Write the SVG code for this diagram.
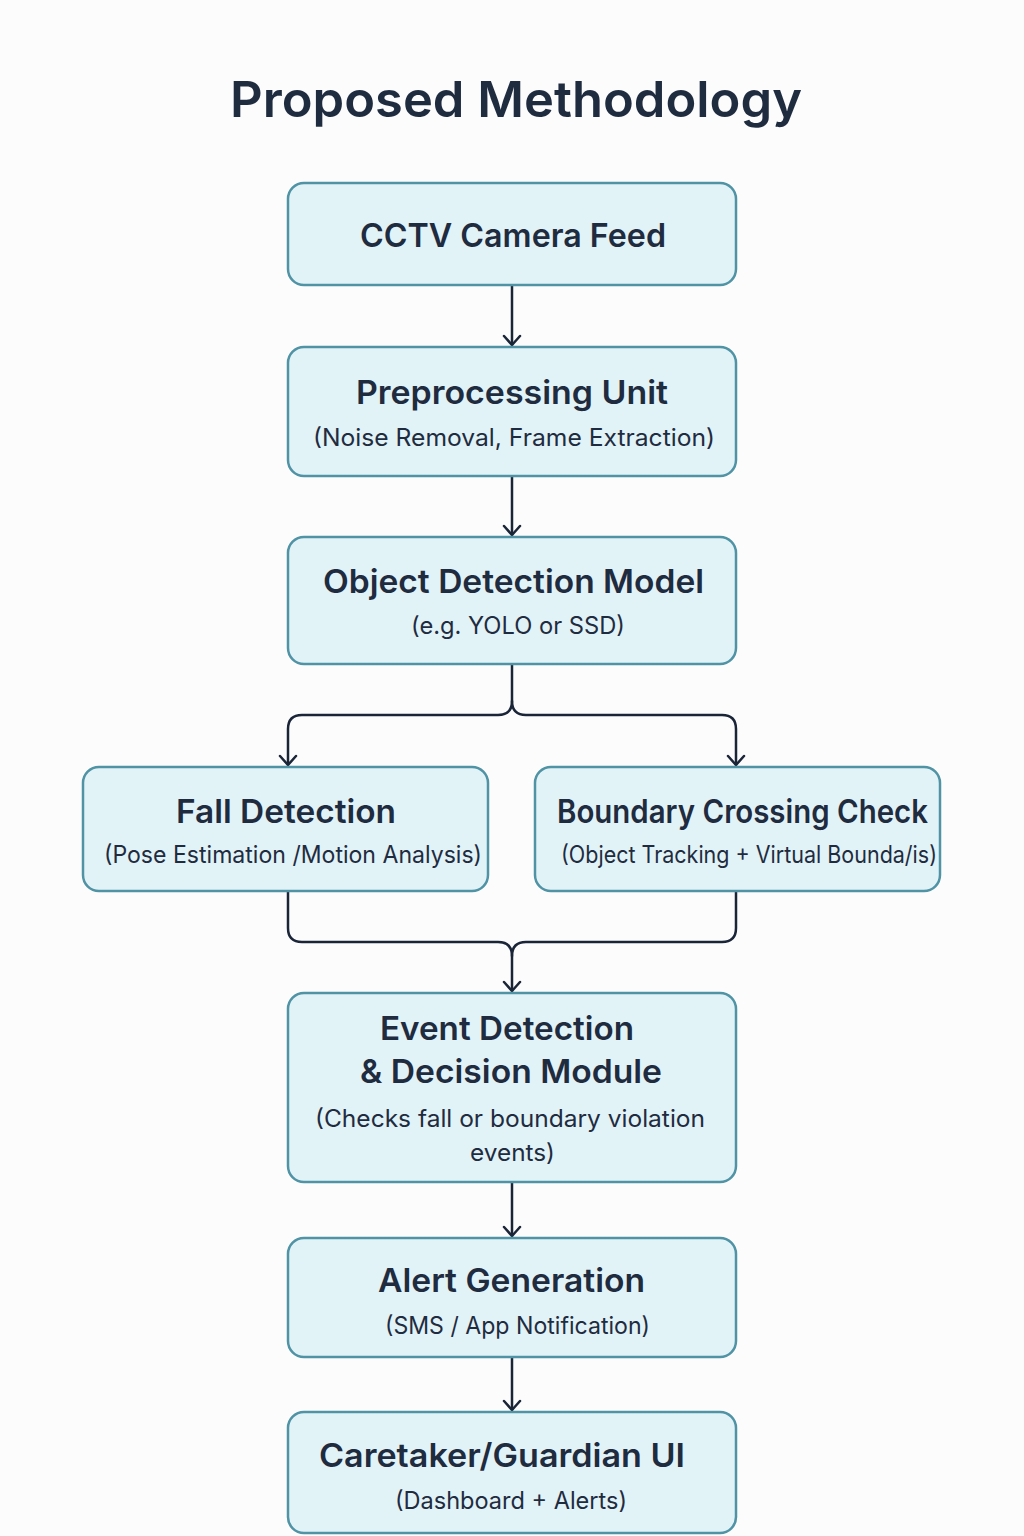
<svg xmlns="http://www.w3.org/2000/svg" width="1024" height="1536" viewBox="0 0 1024 1536">
<defs>
<style>
.bg{fill:#fcfcfc}
.box{fill:#e2f3f8;stroke:#4f93a5;stroke-width:2.5}
.ttl{font-family:Inter,"Noto Sans","Liberation Sans",sans-serif;font-weight:600;fill:#1f2c40;text-anchor:middle}
.h{font-size:33px}
.s{font-family:Inter,"Noto Sans","Liberation Sans",sans-serif;font-weight:400;font-size:24px;fill:#1f2c40;text-anchor:middle}
.c{fill:none;stroke:#1a2538;stroke-width:2.5;stroke-linecap:round;stroke-linejoin:round}
</style>
<marker id="arr" markerUnits="userSpaceOnUse" viewBox="-12 -10 14 20" refX="0" refY="0" markerWidth="14" markerHeight="20" orient="auto">
<path d="M-9,-8 L0,0 L-9,8" fill="none" stroke="#1a2538" stroke-width="2.5" stroke-linecap="round" stroke-linejoin="round"/>
</marker>
</defs>
<rect class="bg" x="0" y="0" width="1024" height="1536"/>
<text id="title" class="ttl" x="516" y="117" font-size="50" fill="#253449" textLength="572" lengthAdjust="spacingAndGlyphs">Proposed Methodology</text>

<g id="connectors">
<path class="c" d="M512,286 V345" marker-end="url(#arr)"/>
<path class="c" d="M512,477 V535" marker-end="url(#arr)"/>
<path class="c" d="M512,665 V701 Q512,715 498,715 H302 Q288,715 288,729 V765" marker-end="url(#arr)"/>
<path class="c" d="M512,701 Q512,715 526,715 H722 Q736,715 736,729 V765" marker-end="url(#arr)"/>
<path class="c" d="M288,892 V928 Q288,942 302,942 H498 Q512,942 512,956 V991" marker-end="url(#arr)"/>
<path class="c" d="M736,892 V928 Q736,942 722,942 H526 Q512,942 512,956"/>
<path class="c" d="M512,1183 V1236" marker-end="url(#arr)"/>
<path class="c" d="M512,1358 V1410" marker-end="url(#arr)"/>
</g>

<g id="n1">
<rect class="box" x="288" y="183" width="448" height="102" rx="16"/>
<text class="ttl h" x="513" y="247" textLength="306" lengthAdjust="spacingAndGlyphs">CCTV Camera Feed</text>
</g>
<g id="n2">
<rect class="box" x="288" y="347" width="448" height="129" rx="16"/>
<text class="ttl h" x="512" y="404" textLength="312" lengthAdjust="spacingAndGlyphs">Preprocessing Unit</text>
<text class="s" x="514" y="446" textLength="402" lengthAdjust="spacingAndGlyphs">(Noise Removal, Frame Extraction)</text>
</g>
<g id="n3">
<rect class="box" x="288" y="537" width="448" height="127" rx="16"/>
<text class="ttl h" x="513.5" y="593" textLength="381" lengthAdjust="spacingAndGlyphs">Object Detection Model</text>
<text class="s" x="518" y="634" textLength="214" lengthAdjust="spacingAndGlyphs">(e.g. YOLO or SSD)</text>
</g>
<g id="n4">
<rect class="box" x="83" y="767" width="405" height="124" rx="16"/>
<text class="ttl h" x="286" y="823" textLength="220" lengthAdjust="spacingAndGlyphs">Fall Detection</text>
<text class="s" x="293" y="863" textLength="378" lengthAdjust="spacingAndGlyphs">(Pose Estimation /Motion Analysis)</text>
</g>
<g id="n5">
<rect class="box" x="535" y="767" width="405" height="124" rx="16"/>
<text class="ttl h" x="742.5" y="823" textLength="371" lengthAdjust="spacingAndGlyphs">Boundary Crossing Check</text>
<text class="s" x="749" y="863" textLength="376" lengthAdjust="spacingAndGlyphs">(Object Tracking + Virtual Bounda/is)</text>
</g>
<g id="n6">
<rect class="box" x="288" y="993" width="448" height="189" rx="16"/>
<text class="ttl h" x="507" y="1040" textLength="254" lengthAdjust="spacingAndGlyphs">Event Detection</text>
<text class="ttl h" x="511" y="1083" textLength="302" lengthAdjust="spacingAndGlyphs">&amp; Decision Module</text>
<text class="s" x="510" y="1127" textLength="390" lengthAdjust="spacingAndGlyphs">(Checks fall or boundary violation</text>
<text class="s" x="512.5" y="1161" textLength="85" lengthAdjust="spacingAndGlyphs">events)</text>
</g>
<g id="n7">
<rect class="box" x="288" y="1238" width="448" height="119" rx="16"/>
<text class="ttl h" x="511.5" y="1292" textLength="267" lengthAdjust="spacingAndGlyphs">Alert Generation</text>
<text class="s" x="517.5" y="1334" textLength="265" lengthAdjust="spacingAndGlyphs">(SMS / App Notification)</text>
</g>
<g id="n8">
<rect class="box" x="288" y="1412" width="448" height="121" rx="16"/>
<text class="ttl h" x="502" y="1467" textLength="366" lengthAdjust="spacingAndGlyphs">Caretaker/Guardian UI</text>
<text class="s" x="511" y="1509" textLength="232" lengthAdjust="spacingAndGlyphs">(Dashboard + Alerts)</text>
</g>
</svg>
